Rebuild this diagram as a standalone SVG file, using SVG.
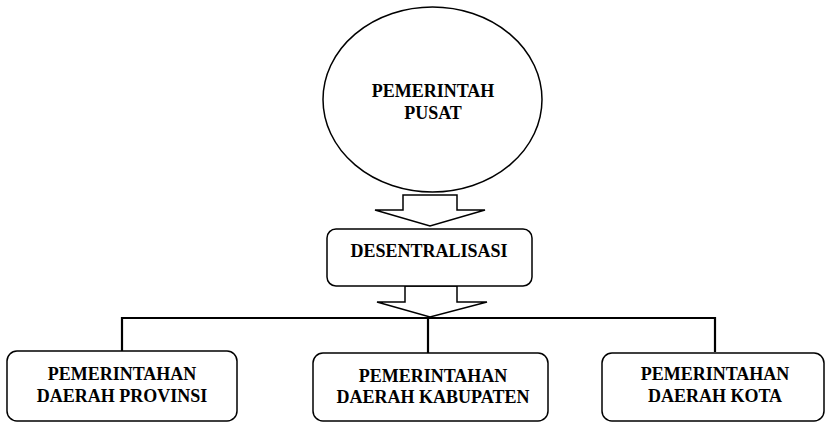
<svg xmlns="http://www.w3.org/2000/svg" width="826" height="422" viewBox="0 0 826 422">
<style>
.shape{fill:#fff;stroke:#000;stroke-width:1.5}
.line{fill:none;stroke:#000;stroke-width:2.2}
.arrow{fill:#fff;stroke:#000;stroke-width:1.5;stroke-linejoin:miter}
text{font-family:"Liberation Serif","Times New Roman",serif;font-weight:bold;font-size:18px;text-anchor:middle;fill:#000}
</style>
<rect width="826" height="422" fill="#fff"/>
<g id="connectors">
<polygon class="arrow" points="403,195 457,195 457,210 485,210 430,226 375,210 403,210"/>
<polygon class="arrow" points="405,286 457,286 457,302 487,302 430,317 377,302 405,302"/>
<polyline class="line" points="122,351 122,318 715,318 715,352"/>
<line class="line" x1="428" y1="318" x2="428" y2="353"/>
</g>
<g id="pusat">
<ellipse class="shape" cx="432.5" cy="99.5" rx="109.5" ry="92.5"/>
<text x="433" y="97">PEMERINTAH</text>
<text x="433" y="119">PUSAT</text>
</g>
<g id="desentralisasi">
<rect class="shape" x="327" y="229" width="205" height="57" rx="9"/>
<text x="429" y="257">DESENTRALISASI</text>
</g>
<g id="provinsi">
<rect class="shape" x="7" y="351" width="230" height="70" rx="10"/>
<text x="122" y="380">PEMERINTAHAN</text>
<text x="122" y="402">DAERAH PROVINSI</text>
</g>
<g id="kabupaten">
<rect class="shape" x="313" y="353" width="235" height="68" rx="10"/>
<text x="433" y="382">PEMERINTAHAN</text>
<text x="433" y="403">DAERAH KABUPATEN</text>
</g>
<g id="kota">
<rect class="shape" x="602" y="353" width="222" height="68" rx="10"/>
<text x="715" y="380">PEMERINTAHAN</text>
<text x="715" y="402">DAERAH KOTA</text>
</g>
</svg>
